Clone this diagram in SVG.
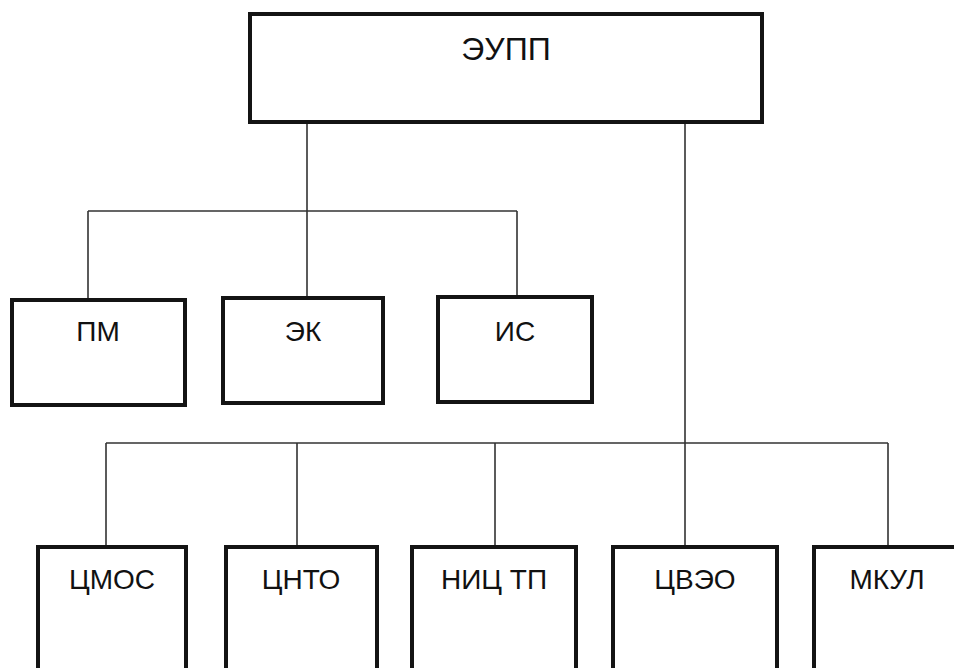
<svg xmlns="http://www.w3.org/2000/svg" width="954" height="668" viewBox="0 0 954 668">
<style>
.box{fill:#fff;stroke:#141414;stroke-width:4}
.lbl{font-family:"Liberation Sans",Arial,sans-serif;font-size:28px;fill:#111;text-anchor:middle}
.top{font-size:32px}
.con{fill:none;stroke:#333;stroke-width:1.6}
</style>
<rect width="954" height="668" fill="#fff"/>
<g id="connectors">
<path class="con" d="M307,122 V211 M88,211 H517 M88,211 V300 M307,211 V298 M517,211 V297"/>
<path class="con" d="M685,122 V547 M106,443 H888 M106,443 V547 M297,443 V547 M495,443 V547 M888,443 V547"/>
</g>
<g id="n-eupp"><rect class="box" x="250" y="14" width="512" height="108"/><text class="lbl top" x="506" y="60">ЭУПП</text></g>
<g id="n-pm"><rect class="box" x="12" y="300" width="173" height="105"/><text class="lbl" x="98" y="341">ПМ</text></g>
<g id="n-ek"><rect class="box" x="223" y="298" width="160" height="105"/><text class="lbl" x="303" y="341">ЭК</text></g>
<g id="n-is"><rect class="box" x="438" y="297" width="154" height="105"/><text class="lbl" x="515" y="341">ИС</text></g>
<g id="n-tsmos"><rect class="box" x="38" y="547" width="148" height="180"/><text class="lbl" x="112" y="589">ЦМОС</text></g>
<g id="n-tsnto"><rect class="box" x="226" y="547" width="151" height="180"/><text class="lbl" x="301" y="589">ЦНТО</text></g>
<g id="n-nitstp"><rect class="box" x="412" y="547" width="164" height="180"/><text class="lbl" x="494" y="589">НИЦ ТП</text></g>
<g id="n-tsveo"><rect class="box" x="613" y="547" width="164" height="180"/><text class="lbl" x="695" y="589">ЦВЭО</text></g>
<g id="n-mkul"><rect class="box" x="814" y="547" width="148" height="180"/><text class="lbl" x="887" y="589">МКУЛ</text></g>
</svg>
